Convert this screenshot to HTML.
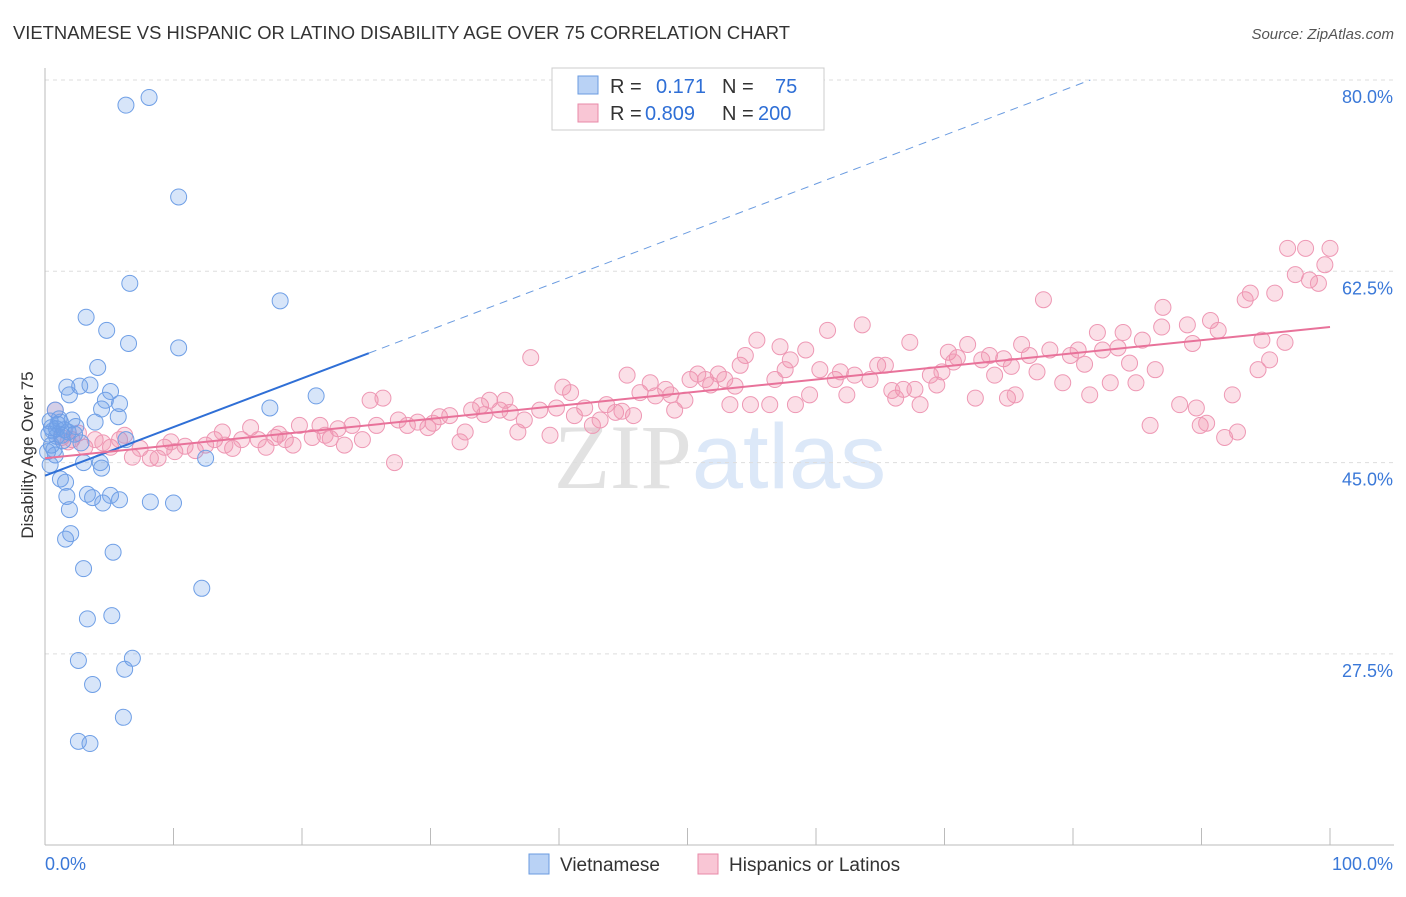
<!DOCTYPE html>
<html><head><meta charset="utf-8"><style>
body{margin:0;background:#fff;font-family:"Liberation Sans",sans-serif;}
</style></head><body>
<svg id="chart" width="1406" height="892" xmlns="http://www.w3.org/2000/svg" font-family="Liberation Sans, sans-serif">
<text x="13" y="39" font-size="18" fill="#333" textLength="777" lengthAdjust="spacingAndGlyphs">VIETNAMESE VS HISPANIC OR LATINO DISABILITY AGE OVER 75 CORRELATION CHART</text>
<text x="1394" y="39" font-size="15" fill="#555" text-anchor="end" font-style="italic">Source: ZipAtlas.com</text>
<text x="720" y="488" font-size="92" text-anchor="middle"><tspan fill="#e2e2e2" font-family="Liberation Serif, serif">ZIP</tspan><tspan fill="#dce8f8" font-family="Liberation Sans, sans-serif">atlas</tspan></text>
<g id="grid"></g>
<g id="axes"></g>
<g id="pink"></g>
<g id="blue"></g>
<g id="lines"></g>
<text transform="translate(33,455) rotate(-90)" font-size="17" fill="#333" text-anchor="middle">Disability Age Over 75</text>
<g>
<rect x="552" y="68" width="272" height="62" fill="#fff" stroke="#ccc"/>
<rect x="578" y="76" width="20" height="18" fill="#b9d2f5" stroke="#6a9be0"/>
<rect x="578" y="104" width="20" height="18" fill="#f9c6d5" stroke="#e88aa8"/>
<text x="610" y="93" font-size="20" fill="#333">R = </text><text x="656" y="93" font-size="20" fill="#2f6fd6">0.171</text>
<text x="722" y="93" font-size="20" fill="#333">N = </text><text x="775" y="93" font-size="20" fill="#2f6fd6">75</text>
<text x="610" y="120" font-size="20" fill="#333">R = </text><text x="645" y="120" font-size="20" fill="#2f6fd6">0.809</text>
<text x="722" y="120" font-size="20" fill="#333">N = </text><text x="758" y="120" font-size="20" fill="#2f6fd6">200</text>
</g>
<g>
<rect x="529" y="854" width="20" height="20" fill="#b9d2f5" stroke="#6a9be0"/>
<text x="560" y="871" font-size="19" fill="#333">Vietnamese</text>
<rect x="698" y="854" width="20" height="20" fill="#f9c6d5" stroke="#e88aa8"/>
<text x="729" y="871" font-size="19" fill="#333">Hispanics or Latinos</text>
</g>
</svg>
<script>
const yTicks=[80,62.5,45,27.5];
const yTickLabels=["80.0%","62.5%","45.0%","27.5%"];
const xTicks=[0,10,20,30,40,50,60,70,80,90,100];
const blueX=[6.3,8.1,10.4,6.6,18.3,3.2,4.8,6.5,10.4,4.1,1.7,2.7,3.5,5.1,1.9,21.1,4.7,5.8,4.4,17.5,0.8,5.7,2.1,1.2,3.9,0.5,1.5,0.9,2.3,6.3,0.5,0.2,0.8,3.0,4.3,12.5,0.4,4.4,1.2,1.6,1.7,3.3,3.7,5.1,4.5,5.8,8.2,10.0,1.9,2.0,1.6,5.3,3.0,12.2,5.2,3.3,2.6,6.8,6.2,3.7,6.1,2.6,3.5,0.6,1.0,1.4,0.3,2.4,0.7,1.1,0.9,1.8,0.4,2.8,1.3];
const blueY=[77.7,78.4,69.3,61.4,59.8,58.3,57.1,55.9,55.5,53.7,51.9,52.0,52.1,51.5,51.2,51.1,50.7,50.4,49.9,50.0,49.8,49.2,48.9,48.7,48.7,48.2,48.0,47.4,47.6,47.1,46.6,46.0,45.7,45.0,45.0,45.4,44.8,44.5,43.5,43.2,41.9,42.1,41.8,42.0,41.3,41.6,41.4,41.3,40.7,38.5,38.0,36.8,35.3,33.5,31.0,30.7,26.9,27.1,26.1,24.7,21.7,19.5,19.3,47.9,48.5,47.0,47.6,48.3,46.2,49.0,48.1,47.8,48.8,46.8,47.5];
const pinkX=[0.8,1.3,2.1,3.1,3.9,5.1,5.8,6.8,7.4,8.2,8.8,9.3,10.1,10.9,11.7,12.5,13.2,13.8,14.6,15.3,16.0,16.6,17.2,17.9,18.7,19.3,19.8,20.8,21.4,22.2,22.8,23.3,23.9,24.7,25.3,26.3,25.8,27.2,27.5,28.2,29.0,29.8,30.7,31.5,32.3,32.7,33.2,33.9,34.6,35.4,35.8,36.2,36.8,37.3,37.8,38.5,39.3,39.8,40.3,40.9,41.2,42.0,42.6,43.2,43.7,44.4,45.3,45.8,46.3,47.1,47.5,48.3,49.0,49.8,50.2,50.8,51.4,51.8,52.4,52.9,53.3,54.1,54.5,54.9,55.4,56.4,56.8,57.2,58.0,58.4,59.2,59.5,60.3,60.9,61.5,61.9,62.4,63.0,63.6,64.2,64.8,65.4,66.2,66.8,67.3,67.7,68.1,68.9,69.4,69.8,70.3,71.0,71.8,72.4,72.9,73.5,73.9,74.6,74.9,75.5,76.0,76.6,77.2,77.7,78.2,79.2,79.8,80.4,81.3,81.9,82.3,82.9,83.5,83.9,84.4,84.9,85.4,86.0,86.4,87.0,86.9,88.3,88.9,89.3,89.9,90.7,91.3,91.8,92.4,92.8,93.4,93.8,94.4,94.7,95.3,95.7,96.5,96.7,97.3,98.1,98.4,99.1,99.6,100,89.6,90.4,1.8,4.5,6.2,2.6,9.8,14.0,18.2,21.8,30.2,34.2,44.9,48.7,53.7,57.6,65.9,70.7,75.2,80.9];
const pinkY=[49.8,47.3,47.1,46.4,47.1,46.4,47.1,45.5,46.3,45.4,45.4,46.4,46.0,46.5,46.1,46.6,47.1,47.8,46.3,47.1,48.2,47.1,46.4,47.3,47.1,46.6,48.4,47.3,48.4,47.2,48.1,46.6,48.4,47.1,50.7,50.9,48.4,45.0,48.9,48.4,48.7,48.2,49.2,49.3,46.9,47.8,49.8,50.2,50.7,49.8,50.7,49.6,47.8,48.9,54.6,49.8,47.5,50.0,51.9,51.4,49.3,50.0,48.4,48.9,50.3,49.6,53.0,49.3,51.4,52.3,51.1,51.7,49.8,50.7,52.6,53.1,52.6,52.1,53.1,52.6,50.3,53.9,54.8,50.3,56.2,50.3,52.6,55.6,54.4,50.3,55.3,51.2,53.5,57.1,52.6,53.3,51.2,53.0,57.6,52.6,53.9,53.9,50.9,51.7,56.0,51.7,50.3,53.0,52.1,53.3,55.1,54.6,55.8,50.9,54.4,54.8,53.0,54.5,50.9,51.2,55.8,54.8,53.3,59.9,55.3,52.3,54.8,55.3,51.2,56.9,55.3,52.3,55.5,56.9,54.1,52.3,56.2,48.4,53.5,59.2,57.4,50.3,57.6,55.9,48.4,58.0,57.1,47.3,51.2,47.8,59.9,60.5,53.5,56.2,54.4,60.5,56.0,64.6,62.2,64.6,61.7,61.4,63.1,64.6,50.0,48.6,46.9,46.8,47.5,47.7,46.9,46.6,47.6,47.5,48.6,49.4,49.7,51.2,52.0,53.5,51.6,54.2,53.8,54.0];
const blueTrend=[43.8,0.445]; // intercept, slope
const pinkTrend=[45.4,0.12];
const ns="http://www.w3.org/2000/svg";
const X0=45,X1=1330,Y80=80,PXPER=191.3/17.5,YBOT=845;
const sx=v=>X0+(X1-X0)*v/100;
const sy=v=>Y80+(80-v)*PXPER;
function mk(tag,attrs,parent){const e=document.createElementNS(ns,tag);for(const k in attrs)e.setAttribute(k,attrs[k]);parent.appendChild(e);return e;}
const grid=document.getElementById('grid'),axes=document.getElementById('axes');
yTicks.forEach((t,i)=>{
  const l=mk('line',{x1:X0,x2:1394,y1:sy(t),y2:sy(t),stroke:'#ddd','stroke-dasharray':'4,4'},grid);
  
  
  const tx=mk('text',{x:1393,y:sy(t)+23,'font-size':18,fill:'#3a78d8','text-anchor':'end'},axes);
  tx.textContent=yTickLabels[i];
  
  
});
const ax=mk('line',{x1:X0,x2:1394,y1:YBOT,y2:YBOT,stroke:'#bbb'},axes);


const ay=mk('line',{x1:X0,x2:X0,y1:68,y2:YBOT,stroke:'#bbb'},axes);


xTicks.forEach(t=>{
  const l=mk('line',{x1:sx(t),x2:sx(t),y1:828,y2:YBOT,stroke:'#bbb'},axes);
  
  
});
const xl0=mk('text',{x:45,y:870,'font-size':18,fill:'#3a78d8'},axes);xl0.textContent='0.0%';


const xl1=mk('text',{x:1393,y:870,'font-size':18,fill:'#3a78d8','text-anchor':'end'},axes);xl1.textContent='100.0%';


const pg=document.getElementById('pink');
pinkX.forEach((x,i)=>{
  const c=mk('circle',{cx:sx(x),cy:sy(pinkY[i]),r:8,fill:'rgba(240,140,170,0.28)',stroke:'#ee98b4','stroke-width':1},pg);
  
  
});
const bg=document.getElementById('blue');
blueX.forEach((x,i)=>{
  const c=mk('circle',{cx:sx(x),cy:sy(blueY[i]),r:8,fill:'rgba(110,160,235,0.28)',stroke:'#6f9fe6','stroke-width':1},bg);
  
  
});
const lg=document.getElementById('lines');
const l1=mk('line',{x1:sx(0),y1:sy(blueTrend[0]),x2:sx(25.2),y2:sy(blueTrend[0]+blueTrend[1]*25.2),stroke:'#2f6fd6','stroke-width':2},lg);


const xe=(80-blueTrend[0])/blueTrend[1];
const l2=mk('line',{x1:sx(25.2),y1:sy(blueTrend[0]+blueTrend[1]*25.2),x2:sx(xe),y2:sy(80),stroke:'#6a9be0','stroke-width':1,'stroke-dasharray':'8,6'},lg);


const l3=mk('line',{x1:sx(0),y1:sy(pinkTrend[0]),x2:sx(100),y2:sy(pinkTrend[0]+pinkTrend[1]*100),stroke:'#e8729a','stroke-width':2},lg);


</script>
</body></html>
